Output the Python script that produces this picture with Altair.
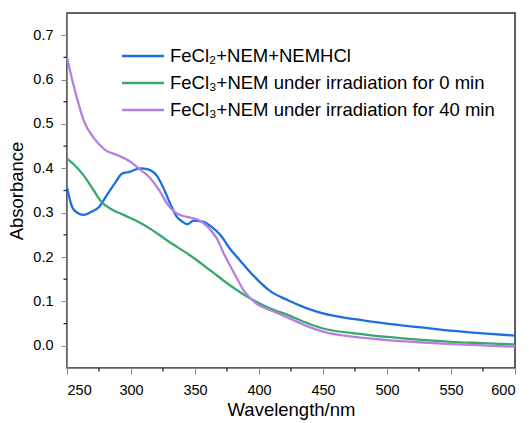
import altair as alt
import pandas as pd

series_names = [
    "FeCl₂+NEM+NEMHCl",
    "FeCl₃+NEM under irradiation for 0 min",
    "FeCl₃+NEM under irradiation for 40 min",
]
series_colors = ["#1b6fdf", "#39a96a", "#b67fe0"]

blue_nm = [250, 254, 258, 263, 269, 275, 281, 288, 293, 299, 307, 314, 320, 325, 331, 336, 340, 344,
           349, 356, 363, 370, 377, 385, 395, 408, 423, 437, 450, 475, 500, 525, 550, 575, 600]
blue_abs = [0.356, 0.313, 0.300, 0.295, 0.302, 0.313, 0.339, 0.369, 0.388, 0.392, 0.400, 0.397, 0.384,
            0.358, 0.318, 0.290, 0.280, 0.274, 0.282, 0.280, 0.268, 0.249, 0.220, 0.193, 0.160, 0.125,
            0.102, 0.085, 0.073, 0.060, 0.050, 0.042, 0.034, 0.028, 0.023]

green_nm = [250, 256, 263, 270, 277, 284, 295, 306, 315, 330, 346, 362, 377, 393, 409, 423, 437, 450,
            475, 500, 525, 550, 575, 600]
green_abs = [0.422, 0.407, 0.384, 0.354, 0.324, 0.309, 0.294, 0.279, 0.264, 0.234, 0.204, 0.170, 0.137,
             0.107, 0.084, 0.069, 0.052, 0.039, 0.028, 0.020, 0.014, 0.009, 0.006, 0.003]

purple_nm = [250, 254, 258, 263, 271, 280, 290, 300, 306, 314, 322, 329, 335, 340, 346, 354, 360, 367,
             373, 380, 388, 398, 409, 423, 437, 450, 475, 500, 525, 550, 575, 600]
purple_abs = [0.651, 0.600, 0.556, 0.508, 0.468, 0.441, 0.429, 0.414, 0.400, 0.381, 0.351, 0.317, 0.300,
              0.293, 0.289, 0.282, 0.268, 0.242, 0.205, 0.167, 0.125, 0.095, 0.080, 0.063, 0.045, 0.032,
              0.020, 0.013, 0.008, 0.004, 0.001, -0.002]

x_major = [250, 300, 350, 400, 450, 500, 550, 600]
x_minor = [275, 325, 375, 425, 475, 525, 575]
y_major = [0.0, 0.1, 0.2, 0.3, 0.4, 0.5, 0.6, 0.7]
y_minor = [0.05, 0.15, 0.25, 0.35, 0.45, 0.55, 0.65]

rows = []
for name, xs, ys in zip(series_names, [blue_nm, green_nm, purple_nm], [blue_abs, green_abs, purple_abs]):
    for x, y in zip(xs, ys):
        rows.append({"series": name, "nm": x, "abs": y})
df = pd.DataFrame(rows)
df_xminor = pd.DataFrame({"v": x_minor})
df_yminor = pd.DataFrame({"v": y_minor})

FONT = "Liberation Sans"
AXC = "#2b2b2b"
W, H = 448, 355

xscale = alt.Scale(domain=[250, 600], nice=False, zero=False)
yscale = alt.Scale(domain=[-0.05, 0.75], nice=False, zero=False)
xaxis = alt.Axis(values=x_major, grid=False, tickSize=6,
                 labelFontSize=14.5, titleFontSize=18.5, titleFontWeight="normal",
                 labelPadding=9, titlePadding=4)
yaxis = alt.Axis(values=y_major, grid=False, format=".1f", tickSize=6,
                 labelFontSize=14.5, titleFontSize=18.5, titleFontWeight="normal",
                 labelPadding=8, titlePadding=6)
XT, YT = "Wavelength/nm", "Absorbance"

lines = alt.Chart(df).mark_line(strokeWidth=2.3, interpolate="monotone").encode(
    x=alt.X("nm:Q", title=XT, scale=xscale, axis=xaxis),
    y=alt.Y("abs:Q", title=YT, scale=yscale, axis=yaxis),
    color=alt.Color("series:N", sort=series_names,
                    scale=alt.Scale(domain=series_names, range=series_colors),
                    legend=alt.Legend(title=None, orient="none", legendX=66, legendY=33,
                                      symbolType="M-2.5,0H2.5", symbolSize=282, symbolStrokeWidth=2.5,
                                      labelFontSize=18.5, labelFont=FONT, labelColor="black",
                                      rowPadding=7, labelOffset=17, labelLimit=500)),
)

xminor = alt.Chart(df_xminor).mark_rule(color=AXC, strokeWidth=1.3).encode(
    x=alt.X("v:Q", title=XT, scale=xscale, axis=xaxis),
    y=alt.value(H), y2=alt.value(H + 3.5),
)
yminor = alt.Chart(df_yminor).mark_rule(color=AXC, strokeWidth=1.3).encode(
    y=alt.Y("v:Q", title=YT, scale=yscale, axis=yaxis),
    x=alt.value(0), x2=alt.value(-3.5),
)

chart = alt.layer(lines, xminor, yminor).properties(
    width=W, height=H,
    autosize=alt.AutoSizeParams(type="none"),
    padding={"left": 67, "top": 13, "right": 14, "bottom": 55},
    view=alt.ViewBackground(stroke=AXC, strokeWidth=1.5),
).configure_axis(
    labelFont=FONT, titleFont=FONT, labelColor="black", titleColor="black",
    titleFontWeight="normal", domainColor=AXC, tickColor=AXC, domainWidth=1.3, tickWidth=1.3,
).configure_view(
    stroke=AXC, strokeWidth=1.5,
).configure(background="white")

chart.save("out.html", embed_options={"renderer": "svg", "actions": False})
